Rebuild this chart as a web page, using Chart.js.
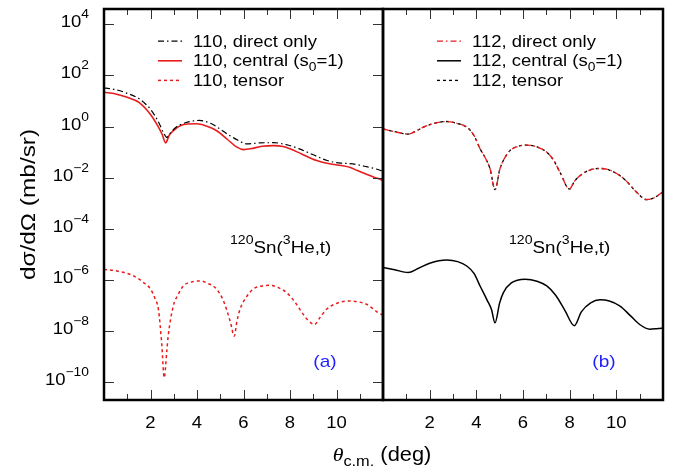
<!DOCTYPE html>
<html><head><meta charset="utf-8">
<script src="https://cdn.jsdelivr.net/npm/chart.js@4.4.1/dist/chart.umd.min.js"></script>
<style>
html,body{margin:0;padding:0;background:#fff;}
#wrap{position:relative;width:683px;height:468px;background:#fff;}
canvas{position:absolute;left:0;top:0;}
</style></head><body>
<div id="wrap"><canvas id="ca" width="683" height="468"></canvas><canvas id="cb" width="683" height="468"></canvas></div>
<script>
// ---------- data ----------
// panel (a)
const thetaA_direct = [0,0.5,1.0,1.5,1.7,2.0,2.35,2.55,2.7,2.85,3.1,3.5,4.1,4.6,5.0,5.4,5.8,6.15,6.7,7.3,7.9,8.4,9.0,9.6,10.2,10.7,11.2,11.7,12];
const sigmaA_direct = [33,28,20,12.6,9.1,4.8,1.48,0.60,0.38,0.56,0.95,1.41,1.74,1.32,0.79,0.45,0.28,0.21,0.23,0.234,0.19,0.135,0.079,0.047,0.037,0.035,0.028,0.022,0.0178];

const thetaA_central = [0,0.5,1.0,1.5,2.0,2.3,2.5,2.65,2.8,3.0,3.3,3.6,4.0,4.4,4.85,5.3,5.7,6.0,6.3,6.8,7.3,7.7,8.0,8.5,9.15,9.7,10.2,10.6,10.9,11.4,11.75,12];
const sigmaA_central = [22,19,14,8.9,3.0,1.12,0.50,0.23,0.45,0.71,1.1,1.26,1.29,1.05,0.69,0.32,0.16,0.126,0.135,0.17,0.18,0.166,0.135,0.085,0.047,0.035,0.030,0.025,0.019,0.0126,0.0095,0.0079];

const thetaA_tensor = [0,0.6,1.26,1.7,2.0,2.2,2.34,2.48,2.59,2.7,2.76,2.98,3.2,3.41,3.8,4.13,4.5,4.84,5.1,5.27,5.45,5.6,5.72,5.85,6.1,6.42,6.8,7.14,7.5,7.85,8.2,8.57,8.8,9.05,9.3,9.57,10.0,10.5,10.9,11.29,11.8,12];
const sigmaA_tensor = [2.6e-6,2.2e-6,1.45e-6,7.9e-7,4.4e-7,1.8e-7,7.1e-8,3.5e-9,1.5e-10,1.6e-9,6.3e-9,9.5e-8,2.8e-7,5.8e-7,8.5e-7,9.1e-7,7.1e-7,4.4e-7,1.8e-7,7.1e-8,2.0e-8,6.3e-9,2.5e-8,7.1e-8,2.0e-7,4.4e-7,5.8e-7,6.2e-7,5.0e-7,3.2e-7,1.4e-7,4.5e-8,2.5e-8,1.8e-8,3.5e-8,7.1e-8,1.2e-7,1.5e-7,1.4e-7,1.12e-7,5.2e-8,4.2e-8];

// panel (b)
const thetaB_direct = [0,0.5,1.08,1.4,1.73,2.2,2.73,3.2,3.59,3.9,4.16,4.4,4.59,4.8,5.01,5.2,5.44,5.8,6.16,6.6,7.02,7.3,7.59,7.99,8.2,8.44,8.8,9.3,9.7,10.16,10.5,10.87,11.3,11.6,12];
const sigmaB_direct = [0.81,0.63,0.51,0.66,0.95,1.35,1.58,1.32,0.95,0.45,0.135,0.056,0.022,0.0034,0.022,0.056,0.115,0.17,0.19,0.16,0.10,0.050,0.016,0.0036,0.0071,0.012,0.019,0.023,0.020,0.012,0.0063,0.0027,0.0014,0.0016,0.0028];

const thetaB_tensor = [0,0.5,1.08,1.4,1.73,2.2,2.73,3.2,3.59,3.9,4.16,4.4,4.59,4.8,5.01,5.2,5.44,5.8,6.16,6.6,7.02,7.3,7.59,7.99,8.2,8.44,8.8,9.3,9.7,10.16,10.5,10.87,11.3,11.6,12];
const sigmaB_tensor = [0.81,0.63,0.51,0.66,0.95,1.35,1.58,1.32,0.95,0.45,0.135,0.056,0.022,0.0034,0.022,0.056,0.115,0.17,0.19,0.16,0.10,0.050,0.016,0.0036,0.0071,0.012,0.019,0.023,0.020,0.012,0.0063,0.0027,0.0014,0.0016,0.0028];

const thetaB_central = [0,0.5,1.08,1.5,2.0,2.73,3.2,3.59,3.9,4.16,4.45,4.65,4.8,5.0,5.16,5.5,6.09,6.6,7.02,7.4,7.8,8.2,8.5,8.9,9.3,9.7,10.16,10.6,11.0,11.44,11.8,12];
const sigmaB_central = [3.1e-6,2.5e-6,1.95e-6,2.8e-6,4.5e-6,6.0e-6,5.2e-6,3.5e-6,1.8e-6,5.8e-7,1.7e-7,7.0e-8,2.1e-8,1.26e-7,3.2e-7,7.6e-7,1.07e-6,8.9e-7,5.8e-7,2.5e-7,6.3e-8,1.6e-8,5.6e-8,1.26e-7,1.66e-7,1.5e-7,9.5e-8,4.0e-8,1.8e-8,1.17e-8,1.26e-8,1.3e-8];

// ticks
const xTickValues = [1,2,3,4,5,6,7,8,9,10,11];
const xTickLabels = [2,4,6,8,10];
const yTickExponents = [4,2,0,-2,-4,-6,-8,-10];

// ---------- styling ----------
const RED = 'rgb(232,28,28)';
const BLUE = 'rgb(30,30,255)';
const SX = 1.12;
const SANS = '"Liberation Sans", Arial, sans-serif';
const SERIF = '"Liberation Serif", "Times New Roman", serif';
const DASHDOT = [6,3,1.5,3];
const DOTS = [3,3];

function segFont(s, size){
  const sz = s.t === 'n' ? size : size * 0.75;
  return (s.i ? 'italic ' : '') + sz + 'px ' + (s.f || SANS);
}
function richWidth(ctx, segs, size, sx){
  let w = 0;
  for (const s of segs){ ctx.font = segFont(s, size); w += ctx.measureText(s.s).width; }
  return w * sx;
}
function drawRich(ctx, segs, x, y, size, align, color, sx){
  sx = sx || SX;
  const w = richWidth(ctx, segs, size, sx);
  let cx = align === 'right' ? x - w : align === 'center' ? x - w / 2 : x;
  ctx.save();
  ctx.fillStyle = color; ctx.textBaseline = 'alphabetic'; ctx.textAlign = 'left';
  for (const s of segs){
    ctx.font = segFont(s, size);
    const dy = s.t === 'sup' ? -size * 0.55 : s.t === 'sub' ? size * 0.28 : 0;
    ctx.save(); ctx.translate(cx, y + dy); ctx.scale(sx, 1); ctx.fillText(s.s, 0, 0); ctx.restore();
    cx += ctx.measureText(s.s).width * sx;
  }
  ctx.restore();
}
const N = s => ({s, t:'n'});
const SUP = s => ({s, t:'sup'});
const SUB = s => ({s, t:'sub'});

const reactionLabel = [SUP('120'), N('Sn('), SUP('3'), N('He,t)')];

const panelPlugin = {
  id: 'panel',
  afterDatasetsDraw(chart, args, o){
    const ctx = chart.ctx, a = chart.chartArea, xs = chart.scales.x, ys = chart.scales.y;
    ctx.save();
    // tick marks (inward)
    ctx.strokeStyle = '#333'; ctx.lineWidth = 1;
    ctx.beginPath();
    for (const v of xTickValues){
      const px = Math.round(xs.getPixelForValue(v)) + 0.5;
      const len = xTickLabels.includes(v) ? 10 : 6;
      ctx.moveTo(px, a.bottom); ctx.lineTo(px, a.bottom - len);
      ctx.moveTo(px, a.top); ctx.lineTo(px, a.top + len);
    }
    if (o.yTicks){
      for (const e of yTickExponents){
        const py = Math.round(ys.getPixelForValue(Math.pow(10, e))) + 0.5;
        ctx.moveTo(a.left, py); ctx.lineTo(a.left + 10, py);
        ctx.moveTo(a.right, py); ctx.lineTo(a.right - 10, py);
      }
    }
    ctx.stroke();
    // frame
    ctx.strokeStyle = '#000'; ctx.lineWidth = 2.5;
    ctx.strokeRect(a.left, a.top, a.right - a.left, a.bottom - a.top);

    // x tick labels
    for (const v of xTickLabels){
      drawRich(ctx, [N(String(v))], xs.getPixelForValue(v), 428, 16.5, 'center', '#000');
    }
    // y tick labels
    if (o.yLabels){
      for (const e of yTickExponents){
        const py = ys.getPixelForValue(Math.pow(10, e));
        const ex = e < 0 ? '\u2212' + (-e) : String(e);
        drawRich(ctx, [N('10'), SUP(ex)], 89, py + 3, 16.5, 'right', '#000');
      }
      // y title
      ctx.save();
      ctx.translate(35, (a.top + a.bottom) / 2);
      ctx.rotate(-Math.PI / 2);
      drawRich(ctx, [N('d\u03C3/d\u03A9 (mb/sr)')], 0, 0, 20, 'center', '#000', 1.22);
      ctx.restore();
      // x title (spans both panels)
      drawRich(ctx, [{s:'\u03B8', t:'n', i:true, f:SERIF}, SUB('c.m.'), N(' (deg)')], 382, 461, 19.5, 'center', '#000');
    }
    // legend
    o.legend.forEach((it, i) => {
      const yb = a.top + 37.7 + i * 19.6;
      const yl = yb - 5.5;
      ctx.save();
      ctx.strokeStyle = it.color; ctx.lineWidth = it.width; ctx.setLineDash(it.dash);
      ctx.beginPath(); ctx.moveTo(a.left + 54, yl); ctx.lineTo(a.left + 78, yl); ctx.stroke();
      ctx.restore();
      drawRich(ctx, it.segs, a.left + 89, yb, 16.5, 'left', '#000');
    });
    // reaction label
    drawRich(ctx, reactionLabel, a.left + 126, 253, 16.8, 'left', '#000');
    // panel tag
    drawRich(ctx, [N(o.tag)], a.left + 221, 367, 17, 'center', BLUE);
    ctx.restore();
  }
};

function pts(xs, ys){ return xs.map((x, i) => ({x, y: ys[i]})); }

function makeChart(id, datasets, padL, padR, yWidth, plug){
  return new Chart(document.getElementById(id), {
    type: 'line',
    data: {datasets},
    options: {
      responsive: false, animation: false, devicePixelRatio: 1,
      layout: {padding: {left: padL, right: padR, top: 9, bottom: 0}},
      elements: {point: {radius: 0}, line: {cubicInterpolationMode: 'monotone', fill: false}},
      plugins: {legend: {display: false}, tooltip: {enabled: false}, panel: plug},
      scales: {
        x: {type: 'linear', min: 0, max: 12, grid: {display: false}, border: {display: false},
            ticks: {display: false}, afterFit: s => { s.height = 68; }},
        y: {type: 'logarithmic', min: 2e-11, max: 4e4, grid: {display: false}, border: {display: false},
            ticks: {display: false}, afterFit: s => { s.width = yWidth; }}
      }
    },
    plugins: [panelPlugin]
  });
}

makeChart('ca', [
  {label: '110, direct only', data: pts(thetaA_direct, sigmaA_direct), borderColor: '#000', borderWidth: 1.2, borderDash: DASHDOT},
  {label: '110, central (s0=1)', data: pts(thetaA_central, sigmaA_central), borderColor: RED, borderWidth: 1.6},
  {label: '110, tensor', data: pts(thetaA_tensor, sigmaA_tensor), borderColor: RED, borderWidth: 1.5, borderDash: DOTS}
], 0, 300, 104, {
  yTicks: true, yLabels: true, tag: '(a)',
  legend: [
    {segs: [N('110, direct only')], color: '#000', width: 1.2, dash: DASHDOT},
    {segs: [N('110, central (s'), SUB('0'), N('=1)')], color: RED, width: 1.6, dash: []},
    {segs: [N('110, tensor')], color: RED, width: 1.5, dash: DOTS}
  ]
});

makeChart('cb', [
  {label: '112, direct only', data: pts(thetaB_direct, sigmaB_direct), borderColor: RED, borderWidth: 1.3, borderDash: DASHDOT},
  {label: '112, central (s0=1)', data: pts(thetaB_central, sigmaB_central), borderColor: '#000', borderWidth: 1.5},
  {label: '112, tensor', data: pts(thetaB_tensor, sigmaB_tensor), borderColor: '#000', borderWidth: 1.3, borderDash: DOTS}
], 383, 20, 0, {
  yTicks: false, yLabels: false, tag: '(b)',
  legend: [
    {segs: [N('112, direct only')], color: RED, width: 1.3, dash: DASHDOT},
    {segs: [N('112, central (s'), SUB('0'), N('=1)')], color: '#000', width: 1.5, dash: []},
    {segs: [N('112, tensor')], color: '#000', width: 1.3, dash: DOTS}
  ]
});
</script>
</body></html>
